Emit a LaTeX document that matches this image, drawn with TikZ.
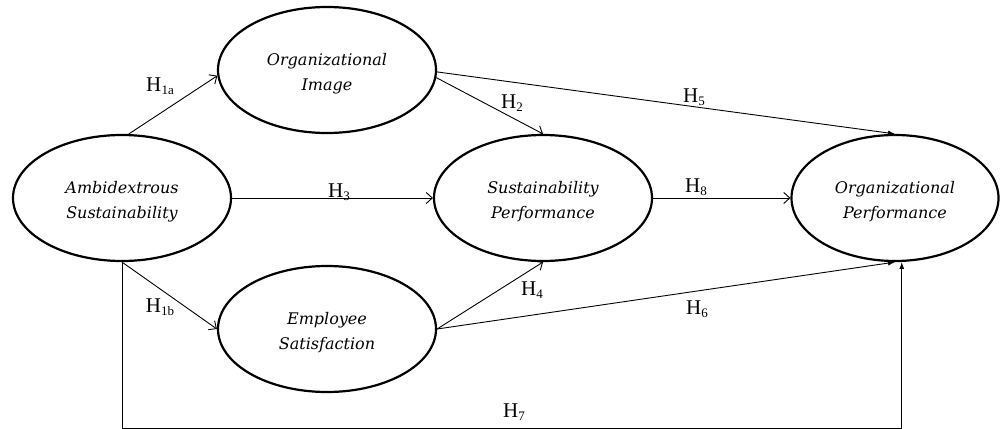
\documentclass[tikz,border=0pt]{standalone}
\usepackage{fontspec}
\setmainfont{Liberation Serif}
\newfontfamily\nodefont{DejaVu Serif}
\usetikzlibrary{shapes.geometric,arrows.meta}
\newcommand\Hs[1]{H\kern0.2pt\raisebox{-3.5pt}{\fontsize{13}{13}\selectfont #1}}
\begin{document}
\begin{tikzpicture}[x=1pt,y=-1pt,
  latent/.style={ellipse, draw, line width=2.2pt, minimum width=218pt, minimum height=126pt,
    inner sep=0pt},
  ltext/.style={align=center, inner sep=0pt, yshift=-4pt, font=\nodefont\itshape\fontsize{16}{25}\selectfont},
  hpath/.style={line width=0.9pt, -{Straight Barb[length=6pt,width=11pt]}},
  hpathf/.style={line width=0.9pt, -{Latex[length=7pt,width=5pt]}},
  hl/.style={font=\fontsize{21}{21}\selectfont, inner sep=0pt}]
\useasboundingbox (0,0) rectangle (1000,428);

\node[latent, label={[ltext]center:{Ambidextrous\\Sustainability}}] (ambi) at (122,198) {};
\node[latent, label={[ltext]center:{Organizational\\Image}}] (img) at (327,70) {};
\node[latent, label={[ltext]center:{Sustainability\\Performance}}] (sp) at (543,198) {};
\node[latent, minimum width=207pt, label={[ltext]center:{Organizational\\Performance}}] (op) at (895,198) {};
\node[latent, label={[ltext]center:{Employee\\Satisfaction}}] (es) at (327,329) {};

\coordinate (base) at (0,428);

\draw[hpath] (ambi.84) -- (img.183);
\draw[hpath] (img.356) -- (sp.north);
\draw[hpathf] (img.359) -- (op.north);
\draw[hpath] (ambi.east) -- (sp.west);
\draw[hpath] (sp.east) -- (op.west);
\draw[hpath] (ambi.south) -- (es.west);
\draw[hpath] (es.east) -- (sp.south);
\draw[hpathf] (es.east) -- (op.south);
\draw[hpathf] (ambi.south) |- (base -| op.276) -- (op.276);

\node[hl] (l1a) at (160,86) {\Hs{1a}};
\node[hl] (l2) at (512,103) {\Hs{2}};
\node[hl] (l3) at (339,192) {\Hs{3}};
\node[hl] (l5) at (694,97) {\Hs{5}};
\node[hl] (l8) at (696,187) {\Hs{8}};
\node[hl] (l1b) at (160,307) {\Hs{1b}};
\node[hl] (l4) at (532,290) {\Hs{4}};
\node[hl] (l6) at (697,309) {\Hs{6}};
\node[hl] (l7) at (514,412) {\Hs{7}};
\end{tikzpicture}
\end{document}
